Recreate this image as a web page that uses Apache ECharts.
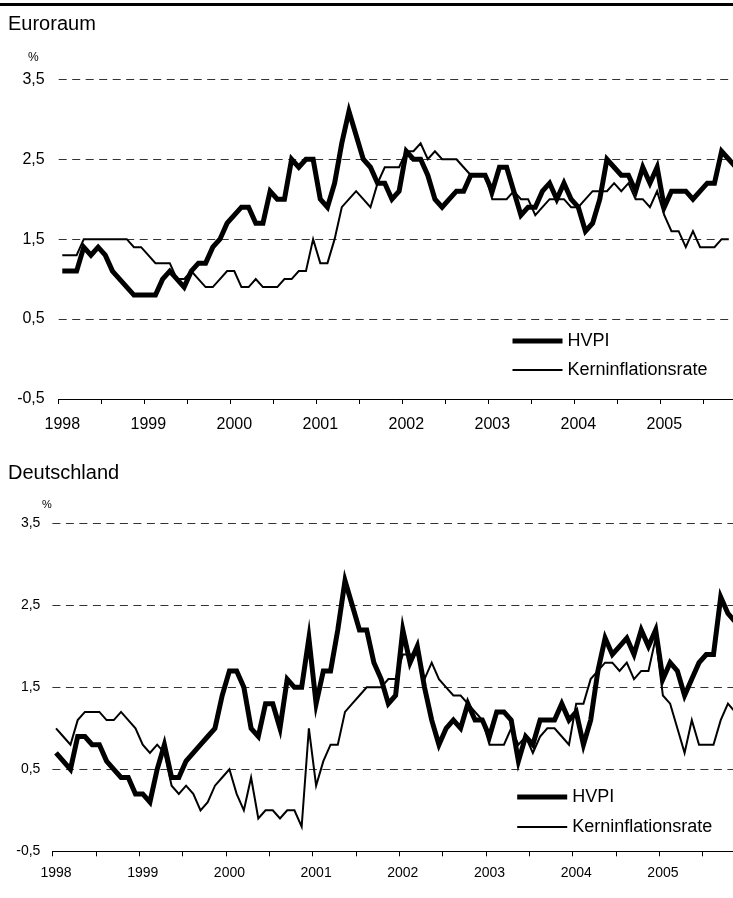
<!DOCTYPE html>
<html>
<head>
<meta charset="utf-8">
<script src="https://cdn.jsdelivr.net/npm/echarts@6/dist/echarts.min.js"></script>
<style>
  html, body { margin: 0; padding: 0; background: #fff; }
  #chart { width: 733px; height: 898px; }
</style>
</head>
<body>
<div id="chart"></div>
<script>
// Jahre / Monate (Jan 1998 - Dez 2005)
var years = ['1998', '1999', '2000', '2001', '2002', '2003', '2004', '2005'];
var months = [];
years.forEach(function (y) {
    for (var m = 1; m <= 12; m++) {
        months.push(y + '-' + (m < 10 ? '0' + m : m));
    }
});

// Euroraum
var euroHVPI = [
    1.1, 1.1, 1.1, 1.4, 1.3, 1.4, 1.3, 1.1, 1.0, 0.9, 0.8, 0.8,
    0.8, 0.8, 1.0, 1.1, 1.0, 0.9, 1.1, 1.2, 1.2, 1.4, 1.5, 1.7,
    1.8, 1.9, 1.9, 1.7, 1.7, 2.1, 2.0, 2.0, 2.5, 2.4, 2.5, 2.5,
    2.0, 1.9, 2.2, 2.7, 3.1, 2.8, 2.5, 2.4, 2.2, 2.2, 2.0, 2.1,
    2.6, 2.5, 2.5, 2.3, 2.0, 1.9, 2.0, 2.1, 2.1, 2.3, 2.3, 2.3,
    2.1, 2.4, 2.4, 2.1, 1.8, 1.9, 1.9, 2.1, 2.2, 2.0, 2.2, 2.0,
    1.9, 1.6, 1.7, 2.0, 2.5, 2.4, 2.3, 2.3, 2.1, 2.4, 2.2, 2.4,
    1.9, 2.1, 2.1, 2.1, 2.0, 2.1, 2.2, 2.2, 2.6, 2.5, 2.4
];
var euroKern = [
    1.3, 1.3, 1.3, 1.5, 1.5, 1.5, 1.5, 1.5, 1.5, 1.5, 1.4, 1.4,
    1.3, 1.2, 1.2, 1.2, 1.0, 1.0, 1.1, 1.0, 0.9, 0.9, 1.0, 1.1,
    1.1, 0.9, 0.9, 1.0, 0.9, 0.9, 0.9, 1.0, 1.0, 1.1, 1.1, 1.5,
    1.2, 1.2, 1.5, 1.9, 2.0, 2.1, 2.0, 1.9, 2.2, 2.4, 2.4, 2.4,
    2.6, 2.6, 2.7, 2.5, 2.6, 2.5, 2.5, 2.5, 2.4, 2.3, 2.3, 2.3,
    2.0, 2.0, 2.0, 2.1, 2.0, 2.0, 1.8, 1.9, 2.0, 2.0, 2.0, 1.9,
    1.9, 2.0, 2.1, 2.1, 2.1, 2.2, 2.1, 2.2, 2.0, 2.0, 1.9, 2.1,
    1.8, 1.6, 1.6, 1.4, 1.6, 1.4, 1.4, 1.4, 1.5, 1.5
];

// Deutschland
var deHVPI = [
    0.7, 0.6, 0.5, 0.9, 0.9, 0.8, 0.8, 0.6, 0.5, 0.4, 0.4, 0.2,
    0.2, 0.1, 0.5, 0.8, 0.4, 0.4, 0.6, 0.7, 0.8, 0.9, 1.0, 1.4,
    1.7, 1.7, 1.5, 1.0, 0.9, 1.3, 1.3, 1.0, 1.6, 1.5, 1.5, 2.1,
    1.3, 1.7, 1.7, 2.2, 2.8, 2.5, 2.2, 2.2, 1.8, 1.6, 1.3, 1.4,
    2.2, 1.8, 2.0, 1.5, 1.1, 0.8, 1.0, 1.1, 1.0, 1.3, 1.1, 1.1,
    0.9, 1.2, 1.2, 1.1, 0.6, 0.9, 0.8, 1.1, 1.1, 1.1, 1.3, 1.1,
    1.2, 0.8, 1.1, 1.7, 2.1, 1.9, 2.0, 2.1, 1.9, 2.2, 2.0, 2.2,
    1.6, 1.8, 1.7, 1.4, 1.6, 1.8, 1.9, 1.9, 2.6, 2.4, 2.3
];
var deKern = [
    1.0, 0.9, 0.8, 1.1, 1.2, 1.2, 1.2, 1.1, 1.1, 1.2, 1.1, 1.0,
    0.8, 0.7, 0.8, 0.7, 0.3, 0.2, 0.3, 0.2, 0.0, 0.1, 0.3, 0.4,
    0.5, 0.2, 0.0, 0.4, -0.1, 0.0, 0.0, -0.1, 0.0, 0.0, -0.2, 1.0,
    0.3, 0.6, 0.8, 0.8, 1.2, 1.3, 1.4, 1.5, 1.5, 1.5, 1.6, 1.6,
    1.9, 1.9, 1.9, 1.6, 1.8, 1.6, 1.5, 1.4, 1.4, 1.3, 1.2, 1.1,
    0.8, 0.8, 0.8, 1.0, 0.8, 0.9, 0.7, 0.9, 1.0, 1.0, 0.9, 0.8,
    1.3, 1.3, 1.6, 1.7, 1.8, 1.8, 1.7, 1.8, 1.6, 1.7, 1.7, 2.1,
    1.4, 1.3, 1.0, 0.7, 1.1, 0.8, 0.8, 0.8, 1.1, 1.3, 1.2
];

var FONT = '"Liberation Sans", Arial, sans-serif';

function komma(v) {
    return v.toFixed(1).replace('.', ',');
}

function xAchse(idx, size, margin) {
    return {
        type: 'category',
        gridIndex: idx,
        data: months,
        boundaryGap: true,
        axisLine: { show: true, onZero: false, lineStyle: { color: '#000', width: 1 } },
        axisTick: { show: true, interval: 5, alignWithLabel: false, length: 5, lineStyle: { color: '#000' } },
        axisLabel: {
            interval: 11,
            margin: margin,
            color: '#000',
            fontFamily: FONT,
            fontSize: size,
            formatter: function (val) { return val.substr(0, 4); }
        },
        splitLine: { show: false }
    };
}

function yAchse(idx, size, margin) {
    return {
        type: 'value',
        gridIndex: idx,
        min: -0.5,
        max: 3.5,
        interval: 1,
        axisLine: { show: false },
        axisTick: { show: false },
        axisLabel: {
            margin: margin,
            color: '#000',
            fontFamily: FONT,
            fontSize: size,
            formatter: komma
        },
        splitLine: { show: true, lineStyle: { color: '#333', width: 1, type: [8, 5.5] } }
    };
}

function linie(name, data, idx, width) {
    return {
        name: name,
        type: 'line',
        xAxisIndex: idx,
        yAxisIndex: idx,
        data: data,
        symbol: 'none',
        showSymbol: false,
        animation: false,
        lineStyle: { color: '#000', width: width, join: 'miter' },
        itemStyle: { color: '#000' }
    };
}

function legende(left, top, gap) {
    return {
        orient: 'vertical',
        left: left,
        top: top,
        padding: 0,
        itemGap: gap,
        itemWidth: 50,
        itemHeight: 14,
        selectedMode: false,
        data: ['HVPI', 'Kerninflationsrate'],
        itemStyle: { opacity: 0 },
        lineStyle: { width: 'inherit' },
        textStyle: { color: '#000', fontFamily: FONT, fontSize: 18 }
    };
}

var chart = echarts.init(document.getElementById('chart'), null, { renderer: 'canvas' });

var option = {
    backgroundColor: '#fff',
    animation: false,
    grid: [
        { left: 58.7, right: -13.7, top: 79.3, bottom: 499, outerBoundsMode: 'none' },
        { left: 52.4, right: -13, top: 523.3, bottom: 46.7, outerBoundsMode: 'none' }
    ],
    xAxis: [xAchse(0, 16, 18), xAchse(1, 14, 15)],
    yAxis: [yAchse(0, 16, 14), yAchse(1, 14, 12)],
    legend: [legende(510, 332, 11), legende(514.7, 788, 12)],
    series: [
        linie('HVPI', euroHVPI, 0, 5),
        linie('Kerninflationsrate', euroKern, 0, 2),
        linie('HVPI', deHVPI, 1, 5),
        linie('Kerninflationsrate', deKern, 1, 2)
    ],
    graphic: [
        { type: 'rect', left: 0, top: 3, shape: { width: 733, height: 3 }, style: { fill: '#000' } },
        { type: 'text', left: 8, top: 14, style: { text: 'Euroraum', font: '20px ' + FONT, fill: '#000' } },
        { type: 'text', left: 28, top: 52, style: { text: '%', font: '12px ' + FONT, fill: '#000' } },
        { type: 'text', left: 8, top: 463, style: { text: 'Deutschland', font: '20px ' + FONT, fill: '#000' } },
        { type: 'text', left: 42, top: 499, style: { text: '%', font: '11px ' + FONT, fill: '#000' } }
    ]
};

chart.setOption(option);
</script>
</body>
</html>
